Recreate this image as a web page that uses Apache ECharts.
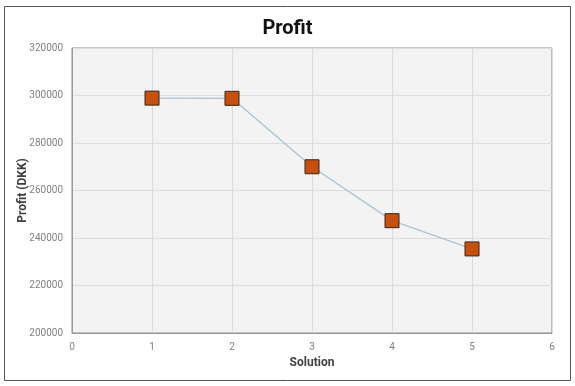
<!DOCTYPE html>
<html>
<head>
<meta charset="utf-8">
<script src="https://cdn.jsdelivr.net/npm/echarts@6/dist/echarts.min.js"></script>
<style>
  html, body { margin: 0; padding: 0; background: #fff; }
  #chart { width: 575px; height: 386px; }
</style>
</head>
<body>
<div id="chart"></div>
<script>
// profit per solution
const solutions = [1, 2, 3, 4, 5];
const profit = [298900, 298800, 270000, 247300, 235400];

const chartDom = document.getElementById('chart');
const myChart = echarts.init(chartDom);

const option = {
  backgroundColor: '#fff',
  textStyle: { fontFamily: 'Roboto' },
  title: {
    text: 'Profit',
    left: 'center',
    top: 14,
    textStyle: { fontSize: 20, fontWeight: 'bold', color: '#111' }
  },
  graphic: [{
    type: 'rect',
    shape: { x: 4.5, y: 6.5, width: 566, height: 374 },
    style: { fill: 'none', stroke: '#555', lineWidth: 1 },
    silent: true
  }],
  grid: {
    left: 72, right: 23, top: 48, bottom: 53,
    show: true,
    backgroundColor: '#f3f3f3',
    borderColor: '#888',
    borderWidth: 1
  },
  xAxis: {
    type: 'value',
    min: 0, max: 6, interval: 1,
    name: 'Solution',
    nameLocation: 'middle',
    nameGap: 24,
    nameMoveOverlap: false,
    nameTextStyle: { fontSize: 12, fontWeight: 'bold', color: '#404040' },
    axisLine: { show: true, lineStyle: { color: '#999' } },
    axisTick: { show: false },
    axisLabel: { color: '#808080', fontSize: 10, margin: 9 },
    splitLine: { show: true, lineStyle: { color: '#dcdcdc' } }
  },
  yAxis: {
    type: 'value',
    min: 200000, max: 320000, interval: 20000,
    name: 'Profit (DKK)',
    nameLocation: 'middle',
    nameGap: 43,
    nameMoveOverlap: false,
    nameTextStyle: { fontSize: 12, fontWeight: 'bold', color: '#404040' },
    axisLine: { show: true, lineStyle: { color: '#999' } },
    axisTick: { show: false },
    axisLabel: { color: '#808080', fontSize: 10, margin: 9, formatter: (v) => String(v) },
    splitLine: { show: true, lineStyle: { color: '#dcdcdc' } }
  },
  series: [{
    type: 'line',
    data: solutions.map((s, i) => [s, profit[i]]),
    symbol: 'rect',
    symbolSize: 14,
    lineStyle: { color: '#a8c3d2', width: 1.3 },
    itemStyle: { color: '#c5500f', borderColor: '#3b2416', borderWidth: 1 },
    emphasis: { disabled: true },
    animation: false
  }]
};
option && myChart.setOption(option);
window.onresize = () => { myChart.resize(); };
</script>
</body>
</html>
